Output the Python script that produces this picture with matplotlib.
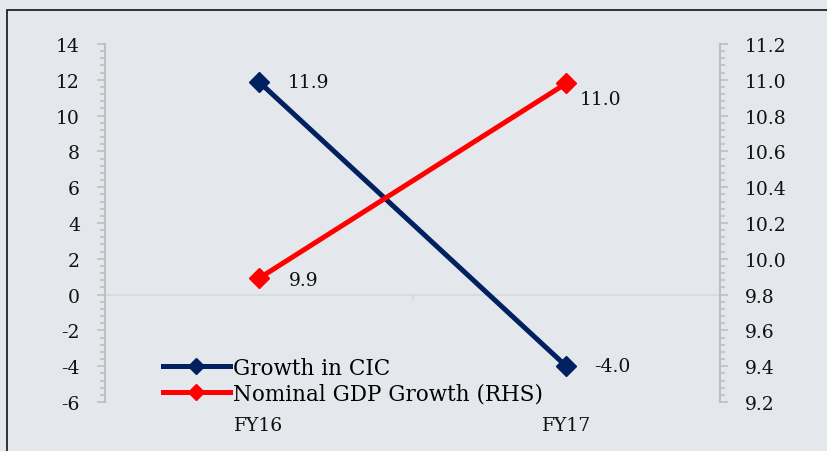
import numpy as np
import matplotlib.pyplot as plt
from matplotlib.patches import Rectangle
from matplotlib.ticker import MultipleLocator

# data
years = ['FY16', 'FY17']
cic_growth = [11.9, -4.0]
gdp_growth = [9.89, 10.98]
cic_labels = ['11.9', '-4.0']
gdp_labels = ['9.9', '11.0']

bg = '#E4E7EC'
navy = '#002060'
red = '#FF0000'
tick_grey = '#BFBFBF'
txt = '#111111'
fs = 13.5

plt.rcParams['font.family'] = ['DejaVu Serif']
plt.rcParams['axes.unicode_minus'] = False

fig = plt.figure(figsize=(8.27, 4.52), dpi=100, facecolor=bg)
W, H = 827, 452
ax = fig.add_axes([105 / W, 1 - 403 / H, 615 / W, 358 / H])
ax.set_facecolor(bg)
ax2 = ax.twinx()

# outer frame (cut off at right and bottom like the source)
fig.patches.append(Rectangle((7 / W, -0.05), 1.2, 1 - 11 / H + 0.05, transform=fig.transFigure,
                             fill=False, edgecolor='#222222', linewidth=1.3))

x = np.arange(len(years))
ax.axhline(0, color='#D9D9D9', linewidth=1.2, zorder=1)
ax.plot([0.5, 0.5], [0, -0.3], color='#D9D9D9', linewidth=1.2, zorder=1)

ax.plot(x, cic_growth, color=navy, linewidth=3.6, marker='D', markersize=10, zorder=3,
        label='Growth in CIC')
ax2.plot(x, gdp_growth, color=red, linewidth=3.6, marker='D', markersize=10, zorder=3,
         label='Nominal GDP Growth (RHS)')

ax.set_xlim(-0.5, 1.5)
ax.set_ylim(-6, 14)
ax2.set_ylim(9.2, 11.2)
ax.yaxis.set_major_locator(MultipleLocator(2))
ax.yaxis.set_minor_locator(MultipleLocator(0.4))
ax2.yaxis.set_major_locator(MultipleLocator(0.2))
ax2.yaxis.set_minor_locator(MultipleLocator(0.04))
ax2.set_yticks(ax2.get_yticks())
ax2.set_yticklabels(['%.1f' % v for v in ax2.get_yticks()])
ax2.set_ylim(9.2, 11.2)

ax.set_xticks(x)
ax.set_xticklabels(years)

for a in (ax, ax2):
    for s in a.spines.values():
        s.set_visible(False)
    a.tick_params(axis='y', which='both', colors=tick_grey, labelcolor=txt, labelsize=fs,
                  width=1.2)
    a.tick_params(axis='y', which='major', length=5.5, pad=12.5)
    a.tick_params(axis='y', which='minor', length=3.5)
ax.spines['left'].set_visible(True)
ax.spines['left'].set_color(tick_grey)
ax.spines['left'].set_linewidth(1.5)
ax2.spines['right'].set_visible(True)
ax2.spines['right'].set_color(tick_grey)
ax2.spines['right'].set_linewidth(1.5)
ax.tick_params(axis='x', length=0, labelsize=fs, pad=10, labelcolor=txt)

# data labels
ax.annotate(cic_labels[0], (x[0], cic_growth[0]), xytext=(21, 0), textcoords='offset points',
            fontsize=fs, va='center', ha='left', color=txt)
ax.annotate(cic_labels[1], (x[1], cic_growth[1]), xytext=(20, 0), textcoords='offset points',
            fontsize=fs, va='center', ha='left', color=txt)
ax2.annotate(gdp_labels[0], (x[0], gdp_growth[0]), xytext=(22, -1), textcoords='offset points',
             fontsize=fs, va='center', ha='left', color=txt)
ax2.annotate(gdp_labels[1], (x[1], gdp_growth[1]), xytext=(10, -11.5), textcoords='offset points',
             fontsize=fs, va='center', ha='left', color=txt)

h1, l1 = ax.get_legend_handles_labels()
h2, l2 = ax2.get_legend_handles_labels()
ax.legend(h1 + h2, l1 + l2, loc='lower left', bbox_to_anchor=(0.08, -0.032), frameon=False,
          fontsize=15.5, handlelength=3.1, handletextpad=0.15, labelspacing=0.2, borderaxespad=0,
          markerscale=0.8)

fig.savefig('out.png', dpi=100, facecolor=bg)
